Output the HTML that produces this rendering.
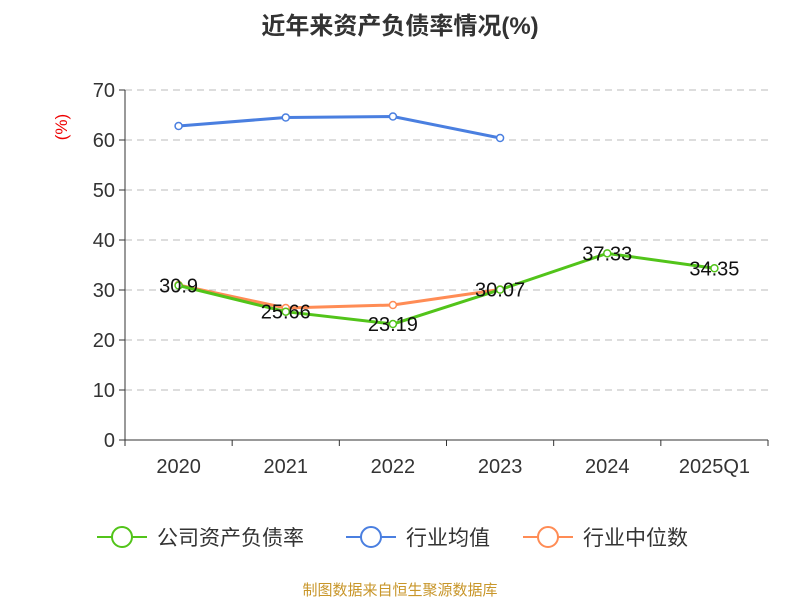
<!DOCTYPE html>
<html><head><meta charset="utf-8"><style>
body{margin:0;background:#fff;font-family:"Liberation Sans","Noto Sans CJK SC",sans-serif}
</style></head><body>
<svg id="c" width="800" height="600" xmlns="http://www.w3.org/2000/svg" font-family="Liberation Sans, Noto Sans CJK SC, sans-serif">
<text x="400" y="34" text-anchor="middle" font-size="24" font-weight="bold" fill="#333">近年来资产负债率情况(%)</text>
<text x="67" y="127" text-anchor="middle" font-size="17" fill="#e00" transform="rotate(-90 67 127)">(%)</text>
<g id="grid"></g><g id="axes"></g><g id="series"></g>
<g>
<g><line x1="97" y1="537" x2="147" y2="537" stroke="#52c41a" stroke-width="2"/><circle cx="122" cy="537" r="10" fill="#fff" stroke="#52c41a" stroke-width="2"/><text x="157" y="545" font-size="21" fill="#333">公司资产负债率</text></g>
<g><line x1="346" y1="537" x2="396" y2="537" stroke="#4a7fe0" stroke-width="2"/><circle cx="371" cy="537" r="10" fill="#fff" stroke="#4a7fe0" stroke-width="2"/><text x="406" y="545" font-size="21" fill="#333">行业均值</text></g>
<g><line x1="523" y1="537" x2="573" y2="537" stroke="#ff8c55" stroke-width="2"/><circle cx="548" cy="537" r="10" fill="#fff" stroke="#ff8c55" stroke-width="2"/><text x="583" y="545" font-size="21" fill="#333">行业中位数</text></g>
</g>
<text x="400" y="595" text-anchor="middle" font-size="15" fill="#c8962a">制图数据来自恒生聚源数据库</text>
</svg>
<script>
const categories=["2020","2021","2022","2023","2024","2025Q1"];
const companyValues=[30.9,25.66,23.19,30.07,37.33,34.35];
const avgValues=[62.8,64.5,64.7,60.4];
const medianValues=[31,26.4,27,30.1];
const yTicks=[0,10,20,30,40,50,60,70];
const NS="http://www.w3.org/2000/svg";
const x0=125,x1=768,yTop=90,yBot=440,yMax=70;
const bw=(x1-x0)/categories.length;
const xs=i=>x0+bw*(i+0.5);
const ys=v=>yBot-(v/yMax)*(yBot-yTop);
function mk(t,a,p){const e=document.createElementNS(NS,t);for(const k in a)e.setAttribute(k,a[k]);p.appendChild(e);return e;}
const grid=document.getElementById('grid'),axes=document.getElementById('axes'),ser=document.getElementById('series');
yTicks.forEach(v=>{
 if(v>0){const g=mk('line',{x1:x0,x2:x1,y1:ys(v),y2:ys(v),stroke:'#bbb','stroke-dasharray':'7,5'},grid);
 
 }
 const tk=mk('line',{x1:x0-6,x2:x0,y1:ys(v),y2:ys(v),stroke:'#333'},axes);
 
 
 const t=mk('text',{x:x0-10,y:ys(v)+7,'text-anchor':'end','font-size':20,fill:'#333'},axes);t.textContent=v;
 
 
});
const ya=mk('line',{x1:x0,x2:x0,y1:yTop,y2:yBot,stroke:'#333'},axes);


const xa=mk('line',{x1:x0,x2:x1,y1:yBot,y2:yBot,stroke:'#333'},axes);


for(let i=0;i<=categories.length;i++){const l=mk('line',{x1:x0+bw*i,x2:x0+bw*i,y1:yBot,y2:yBot+6,stroke:'#333'},axes);
 
 }
categories.forEach((c,i)=>{const t=mk('text',{x:xs(i),y:473,'text-anchor':'middle','font-size':20,fill:'#333'},axes);t.textContent=c;
 
 });
function series(vals,color,name,labels){
 const p=mk('polyline',{points:vals.map((v,i)=>xs(i)+','+ys(v)).join(' '),fill:'none',stroke:color,'stroke-width':3},ser);
 
 
 vals.forEach((v,i)=>{const c=mk('circle',{cx:xs(i),cy:ys(v),r:3.5,fill:'#fff',stroke:color,'stroke-width':1.5},ser);
  
  
  if(labels){const t=mk('text',{x:xs(i),y:ys(v)+7,'text-anchor':'middle','font-size':20,fill:'#111'},ser);t.textContent=v;
   
   }
 });
}
series(avgValues,'#4a7fe0','industry-avg',false);
series(medianValues,'#ff8c55','industry-median',false);
series(companyValues,'#52c41a','company',true);
</script>
</body></html>
